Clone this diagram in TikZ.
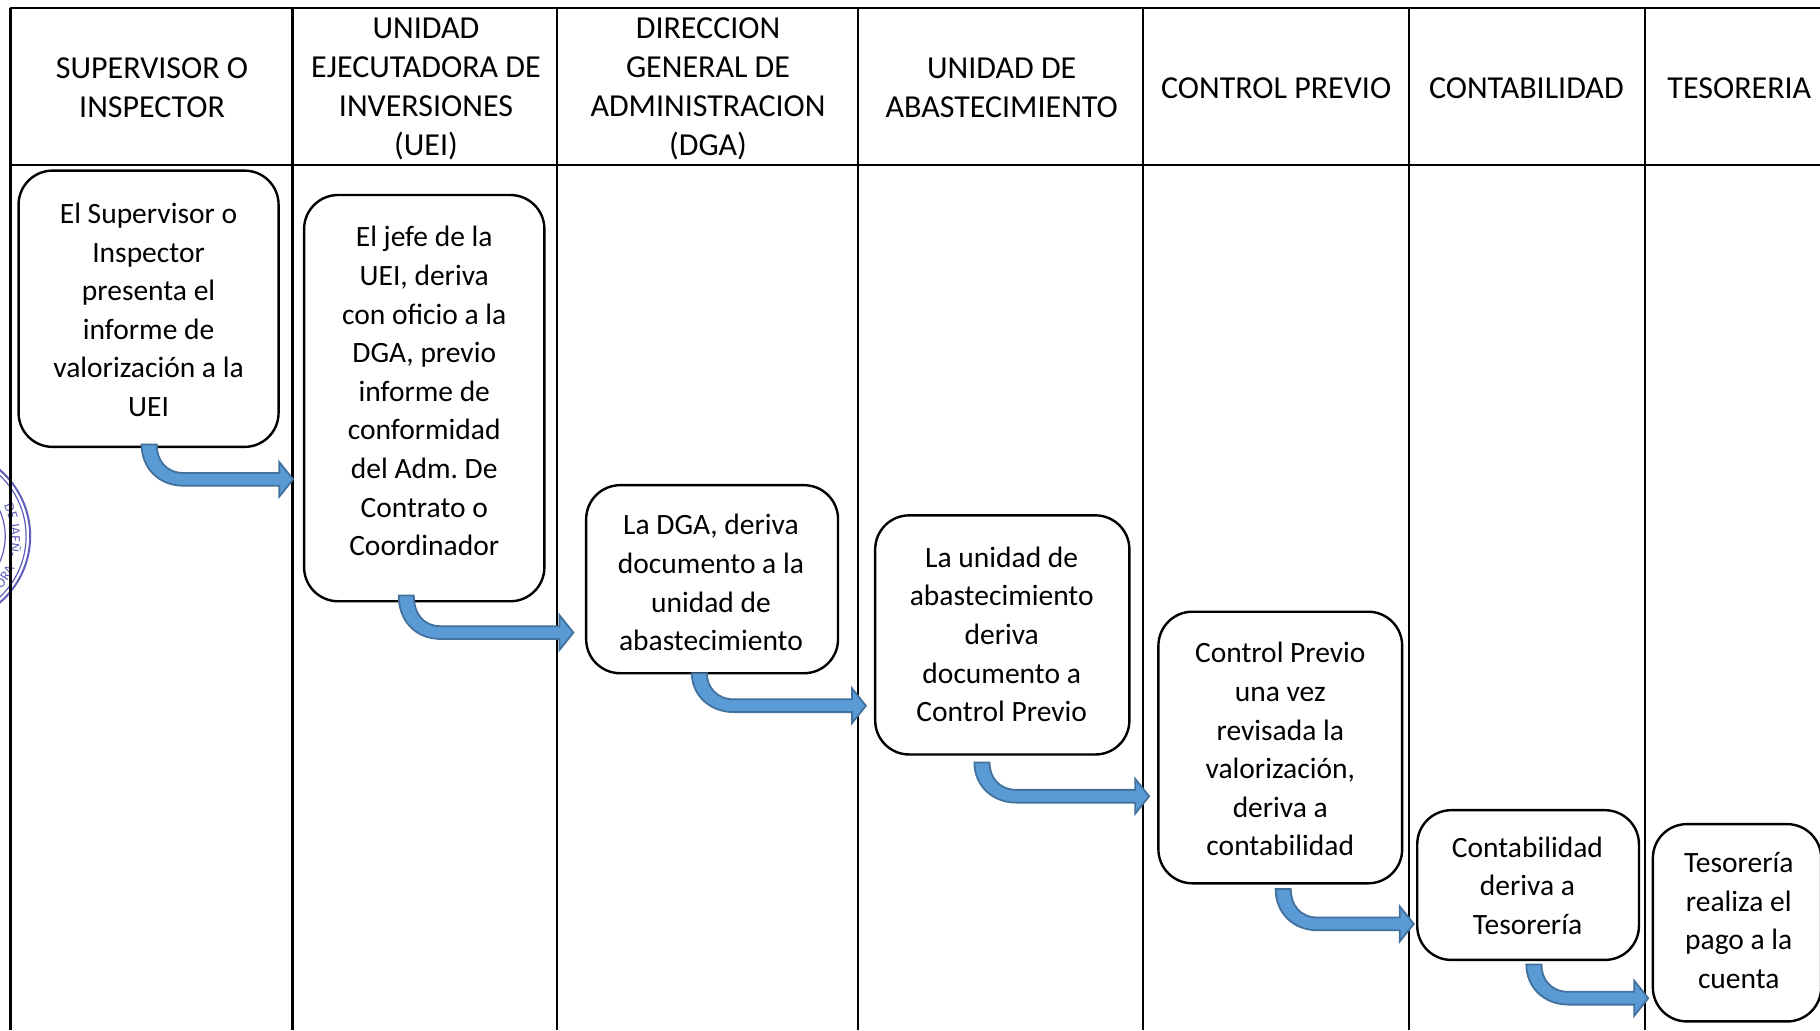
\documentclass[tikz,border=0pt]{standalone}
\usepackage{fontspec}
\usetikzlibrary{calc,decorations.text}
\setmainfont{Carlito}
\frenchspacing
\definecolor{arrfill}{HTML}{5B9BD5}
\definecolor{arrline}{HTML}{41719C}
\definecolor{stampc}{HTML}{5F5FBB}
\newcommand{\bentarr}[2]{%
  \coordinate (cc) at (#1|-#2);
  \path[fill=arrfill,draw=arrline,line width=0.9pt]
   ($(#1)+(-6.5,0)$) -- ($(#1)+(6.5,0)$)
   .. controls ($(cc)+(6.5,-17)$) and ($(cc)+(14,-5.5)$) .. ($(cc)+(30,-5.5)$)
   -- ($(#2)+(-12,-5.5)$) -- ($(#2)+(-12,-15)$) -- (#2) -- ($(#2)+(-12,15)$) -- ($(#2)+(-12,5.5)$)
   -- ($(cc)+(30,5.5)$)
   .. controls ($(cc)+(8,5.5)$) and ($(cc)+(-6.5,-10)$) .. ($(#1)+(-6.5,0)$) -- cycle;}
\begin{document}
\begin{tikzpicture}[x=0.58035pt,y=-0.58035pt,
  gridline/.style={draw=black,line width=1.1pt},
  stepbox/.style={draw=black,line width=1.2pt,rounded corners=17pt,fill=white},
  boxtext/.style={font=\fontsize{14.75}{19.3}\selectfont,align=center,inner sep=0pt},
  headtext/.style={font=\fontsize{16}{19.5}\selectfont,align=center,inner sep=0pt}]
\useasboundingbox (0,0) rectangle (1568,887.4);
\fill[white] (0,0) rectangle (1568,887.4);
% stamp
\begin{scope}
\clip (0,0) rectangle (1568,887.4);
\draw[stampc,line width=1pt] (-49.5,462) circle (75.5);
\draw[stampc,line width=0.6pt] (-49.5,462) circle (72);
\draw[stampc,line width=0.6pt] (-49.5,462) circle (54);
\path[decorate,decoration={text along path,text={|\fontsize{7}{8}\selectfont\color{stampc}|DE JAEÑ-},text align=center}]
  (-49.5,462) ++(-30:59) arc (-30:20:59);
\path[decorate,decoration={text along path,text={|\fontsize{7}{8}\selectfont\color{stampc}|ORA},text align=center}]
  (-49.5,462) ++(42:68) arc (42:24:68);
\end{scope}
% grid
\draw[gridline] (9,7) -- (1568,7) (9,142) -- (1568,142);
\foreach \xx in {9,252,480,739,985,1214,1417}
  \draw[gridline] (\xx,7) -- (\xx,887.4);
% headers
\node[headtext] (h1) at (131,75.5) {SUPERVISOR O\\INSPECTOR};
\node[headtext] (h2) at (367,76.5) {UNIDAD\\EJECUTADORA DE\\INVERSIONES\\(UEI)};
\node[headtext] (h3) at (610,76.5) {DIRECCION\\GENERAL DE\\ADMINISTRACION\\(DGA)};
\node[headtext] (h4) at (863,75.5) {UNIDAD DE\\ABASTECIMIENTO};
\node[headtext] (h5) at (1099.5,76) {CONTROL PREVIO};
\node[headtext] (h6) at (1315,76) {CONTABILIDAD};
\node[headtext] (h7) at (1498.5,76) {TESORERIA};
% steps
\begin{scope}
\clip (0,0) rectangle (1568,887.4);
\draw[stepbox] (16,147) rectangle (240,385);
\draw[stepbox] (262,168) rectangle (469,518);
\draw[stepbox] (505,418) rectangle (722,580);
\draw[stepbox] (754,444) rectangle (973,650);
\draw[stepbox] (998,527) rectangle (1208,761);
\draw[stepbox] (1221,698) rectangle (1412,827);
\draw[stepbox] (1424,710) rectangle (1569,880);
\end{scope}
\node[boxtext] (s1) at (128,267) {El Supervisor o\\Inspector\\presenta el\\informe de\\valorización a la\\UEI};
\node[boxtext] (s2) at (365.5,337) {El jefe de la\\UEI, deriva\\con oficio a la\\DGA, previo\\informe de\\conformidad\\del Adm. De\\Contrato o\\Coordinador};
\node[boxtext] (s3) at (612.5,502) {La DGA, deriva\\documento a la\\unidad de\\abastecimiento};
\node[boxtext] (s4) at (863,546.5) {La unidad de\\abastecimiento\\deriva\\documento a\\Control Previo};
\node[boxtext] (s5) at (1103,645.5) {Control Previo\\una vez\\revisada la\\valorización,\\deriva a\\contabilidad};
\node[boxtext] (s6) at (1316,763) {Contabilidad\\deriva a\\Tesorería};
\node[boxtext] (s7) at (1498,793) {Tesorería\\realiza el\\pago a la\\cuenta};
% arrows
\coordinate (a1s) at (128.5,383); \coordinate (a1t) at (252.5,413);
\coordinate (a2s) at (350,513); \coordinate (a2t) at (494,545);
\coordinate (a3s) at (602.5,580); \coordinate (a3t) at (746,608);
\coordinate (a4s) at (846,657); \coordinate (a4t) at (990,686);
\coordinate (a5s) at (1105.5,766); \coordinate (a5t) at (1218,796);
\coordinate (a6s) at (1321.5,831); \coordinate (a6t) at (1420,860);
\bentarr{a1s}{a1t}
\bentarr{a2s}{a2t}
\bentarr{a3s}{a3t}
\bentarr{a4s}{a4t}
\bentarr{a5s}{a5t}
\bentarr{a6s}{a6t}
\end{tikzpicture}
\end{document}
